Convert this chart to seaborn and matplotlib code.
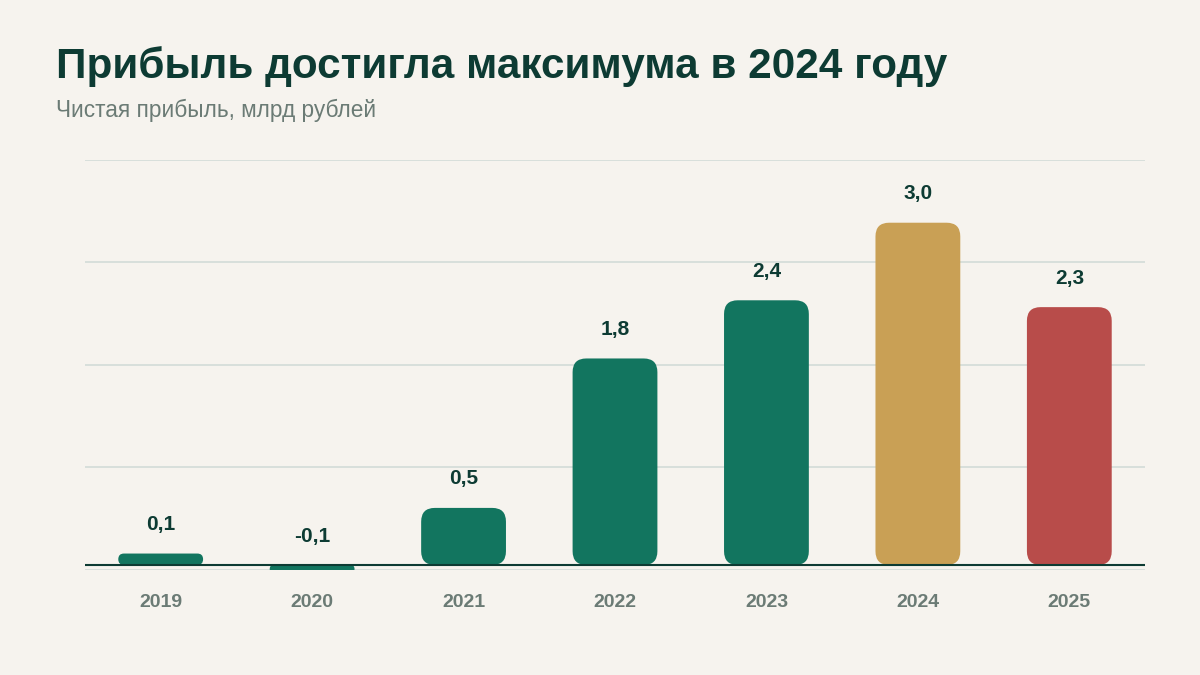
import matplotlib
matplotlib.use("Agg")
import matplotlib.pyplot as plt
import seaborn as sns
import numpy as np
import pandas as pd
from matplotlib.patches import FancyBboxPatch

years = ["2019", "2020", "2021", "2022", "2023", "2024", "2025"]
values = [0.1, -0.07, 0.5, 1.81, 2.32, 3.0, 2.26]
labels = ["0,1", "-0,1", "0,5", "1,8", "2,4", "3,0", "2,3"]
colors = ["#12755F"] * 5 + ["#C9A055", "#B84C4A"]

bg = "#F6F3EE"
sns.set_theme(style="white")
plt.rcParams['font.family'] = ['Liberation Sans', 'DejaVu Sans']

fig = plt.figure(figsize=(12, 6.75), dpi=100, facecolor=bg)
ax = fig.add_axes([0.0708, 0.1556, 0.8834, 0.6074])
ax.set_facecolor(bg)
df = pd.DataFrame({"year": years, "value": values})
sns.barplot(data=df, x="year", y="value", hue="year", palette=colors,
            legend=False, width=0.56, saturation=1, ax=ax, zorder=3)

lo, hi = -0.044, 3.55
ax.set_ylim(lo, hi)
ax.set_xlim(-0.5, 6.5)
aspect = (152 / 114)
for p in list(ax.patches):
    x, y = p.get_x(), p.get_y()
    w, h = p.get_width(), p.get_height()
    y0 = min(y, y + h)
    hh = abs(h)
    r = min(0.09, hh / 2 / aspect)
    fb = FancyBboxPatch((x, y0), w, hh, boxstyle=f"round,pad=0,rounding_size={r}",
                        mutation_aspect=aspect, facecolor=p.get_facecolor(),
                        edgecolor="none", zorder=3)
    p.remove()
    ax.add_patch(fb)

for i, (v, lab) in enumerate(zip(values, labels)):
    ax.annotate(lab, (i, max(v, 0)), xytext=(0, 14), textcoords="offset points",
                ha="center", va="bottom", fontsize=15, fontweight="bold", color="#0D3B33")

ax.set_yticks(np.linspace(lo, hi, 5))
ax.set_yticklabels([])
ax.grid(axis="y", color="#D3DCD8", linewidth=1.2, zorder=0)
ax.axhline(0, color="#0D3B33", linewidth=1.5, zorder=4)
for s in ax.spines.values():
    s.set_visible(False)
ax.tick_params(axis="both", length=0)
ax.tick_params(axis="x", labelsize=14, labelcolor="#6B7B75", pad=17)
for t in ax.get_xticklabels():
    t.set_fontweight("bold")
ax.set_xlabel("")
ax.set_ylabel("")

fig.text(0.047, 0.901, "Прибыль достигла максимума в 2024 году", fontsize=30.4,
         fontweight="bold", color="#0D3B33", va="center")
fig.text(0.047, 0.836, "Чистая прибыль, млрд рублей", fontsize=16.3,
         color="#6B7B75", va="center")

fig.savefig("out.png", dpi=100, facecolor=bg)
